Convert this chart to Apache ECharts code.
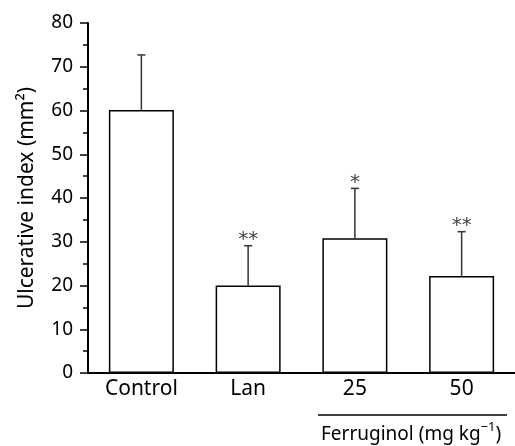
<!DOCTYPE html>
<html>
<head>
<meta charset="utf-8">
<script src="https://cdn.jsdelivr.net/npm/echarts@6/dist/echarts.min.js"></script>
<style>
	html, body { margin: 0; padding: 0; background: #fff; }
	#chart { width: 515px; height: 446px; }
</style>
</head>
<body>
<div id="chart"></div>
<script>
var groups = ['Control', 'Lan', '25', '50'];
var means = [60.1, 20, 30.8, 22.2];
var upper = [72.7, 29.1, 42.2, 32.3];   // mean + SD
var stars = ['', '**', '*', '**'];
var yTicks = [0, 10, 20, 30, 40, 50, 60, 70, 80];

var font = 'Noto Sans';

var errData = groups.map(function(g, i) {
	return [i, means[i], upper[i]];
});

var chart = echarts.init(document.getElementById('chart'));
chart.setOption({
	animation: false,
	grid: { left: 88, top: 23, width: 434, height: 350 },
	xAxis: {
		type: 'category',
		data: groups,
		axisLine: { lineStyle: { color: '#000', width: 2 } },
		axisTick: { show: false },
		axisLabel: { color: '#000', fontSize: 21, fontFamily: font, margin: 6 }
	},
	yAxis: {
		type: 'value',
		min: yTicks[0],
		max: yTicks[yTicks.length - 1],
		interval: 10,
		name: 'Ulcerative index (mm²)',
		nameLocation: 'middle',
		nameRotate: 90,
		nameGap: 50,
		nameTextStyle: { color: '#000', fontSize: 21, fontFamily: font },
		axisLine: { show: true, lineStyle: { color: '#000', width: 2 } },
		axisTick: { show: true, length: 8, lineStyle: { color: '#000', width: 1.5 } },
		minorTick: { show: true, splitNumber: 2, length: 5, lineStyle: { color: '#000', width: 1.5 } },
		splitLine: { show: false },
		axisLabel: { color: '#000', fontSize: 19, fontFamily: font, margin: 15 }
	},
	series: [{
		type: 'bar',
		data: means,
		barWidth: 65,
		itemStyle: { color: '#fff', borderColor: '#000', borderWidth: 1.5 },
		z: 2
	}, {
		type: 'custom',
		data: errData,
		z: 3,
		renderItem: function(params, api) {
			var base = api.coord([api.value(0), api.value(1)]);
			var top = api.coord([api.value(0), api.value(2)]);
			var st = { stroke: '#333', lineWidth: 1.5 };
			return {
				type: 'group',
				children: [{
					type: 'line',
					shape: { x1: base[0], y1: base[1], x2: top[0], y2: top[1] },
					style: st
				}, {
					type: 'line',
					shape: { x1: top[0] - 4, y1: top[1], x2: top[0] + 4, y2: top[1] },
					style: st
				}, {
					type: 'text',
					style: {
						text: stars[params.dataIndex],
						x: top[0],
						y: top[1] + 4,
						align: 'center',
						verticalAlign: 'bottom',
						fontSize: 20,
						fontFamily: 'DejaVu Sans',
						fill: '#444'
					}
				}]
			};
		}
	}],
	graphic: [{
		type: 'line',
		shape: { x1: 318, y1: 415, x2: 507, y2: 415 },
		style: { stroke: '#000', lineWidth: 1.5 }
	}, {
		type: 'text',
		left: 321,
		top: 421,
		style: {
			text: '{a|Ferruginol (mg kg}{s|−1}{a|)}',
			rich: {
				a: { fontSize: 19, fontFamily: font, fill: '#000', lineHeight: 23, verticalAlign: 'bottom' },
				s: { fontSize: 13, fontFamily: font, fill: '#000', lineHeight: 23, verticalAlign: 'top' }
			}
		}
	}]
});
</script>
</body>
</html>
